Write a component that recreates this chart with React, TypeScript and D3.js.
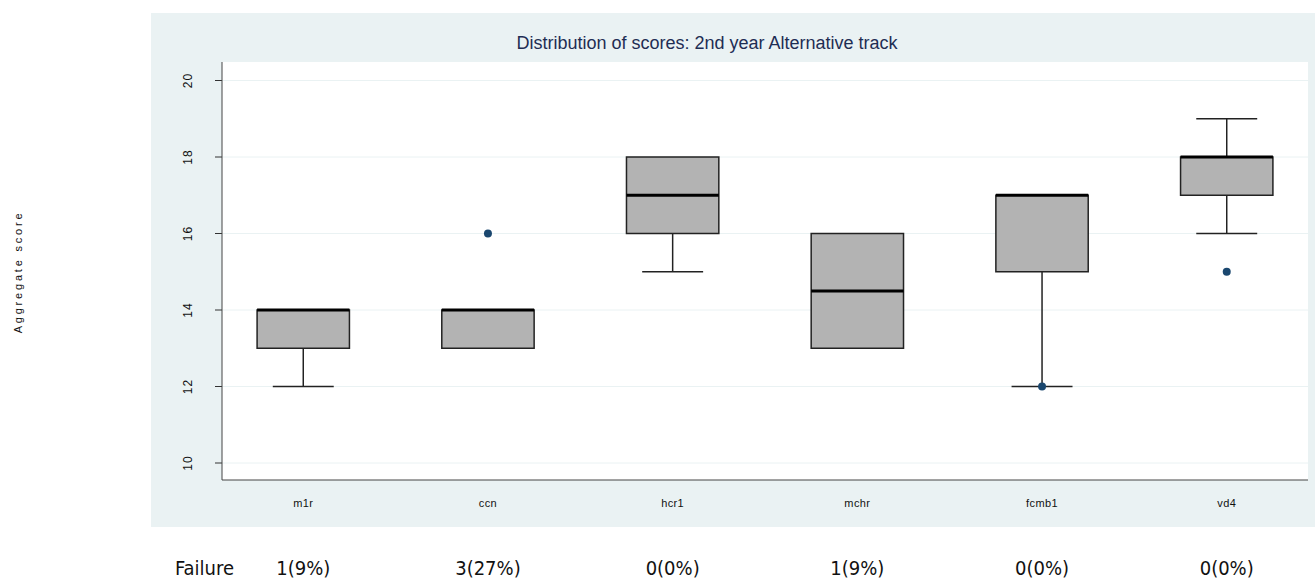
import React from "react";
import * as d3 from "d3";

const categories = ["m1r", "ccn", "hcr1", "mchr", "fcmb1", "vd4"];
const q1 = [13, 13, 16, 13, 15, 17];
const medians = [14, 14, 17, 14.5, 17, 18];
const q3 = [14, 14, 18, 16, 17, 18];
const whiskerLow = [12, 13, 15, 13, 12, 16];
const whiskerHigh = [14, 14, 18, 16, 17, 19];
const outliers = [[], [16], [], [], [12], [15]];
const failureLabels = ["1(9%)", "3(27%)", "0(0%)", "1(9%)", "0(0%)", "0(0%)"];
const yTicks = [10, 12, 14, 16, 18, 20];

const width = 1315;
const height = 587;
const panel = { left: 151, top: 13, right: 1315, bottom: 527 };
const plot = { left: 222, top: 62, right: 1308, bottom: 480 };

const App: React.FC = () => {
  const x = d3
    .scalePoint<string>()
    .domain(categories)
    .range([plot.left, plot.right])
    .padding(0.44);
  const step = x.step();

  const y = d3.scaleLinear().domain([10, 20]).range([463, 80.5]);

  const boxW = step * 0.5;
  const capW = step * 0.33;
  const sans = "'Liberation Sans', Arial, sans-serif";
  const narrow = "'DejaVu Sans Condensed', 'Liberation Sans Narrow', sans-serif";

  return (
    <svg
      width={width}
      height={height}
      style={{ position: "absolute", left: 0, top: 0, background: "#fff" }}
    >
      <rect
        x={panel.left}
        y={panel.top}
        width={panel.right - panel.left}
        height={panel.bottom - panel.top}
        fill="#eaf2f3"
      />
      <rect
        x={plot.left}
        y={plot.top}
        width={plot.right - plot.left}
        height={plot.bottom - plot.top}
        fill="#ffffff"
      />
      <text
        x={707}
        y={49}
        textAnchor="middle"
        fontFamily={sans}
        fontSize={18}
        fill="#1e2d53"
      >
        Distribution of scores: 2nd year Alternative track
      </text>

      {yTicks.map((t) => (
        <g key={t}>
          <line
            x1={plot.left}
            x2={plot.right}
            y1={y(t)}
            y2={y(t)}
            stroke="#eaf2f3"
            strokeWidth={1}
          />
          <line
            x1={plot.left - 7}
            x2={plot.left}
            y1={y(t)}
            y2={y(t)}
            stroke="#333"
            strokeWidth={1}
          />
          <text
            transform={`translate(192,${y(t)}) rotate(-90)`}
            textAnchor="middle"
            fontFamily={sans}
            fontSize={12}
            letterSpacing={1}
            fill="#111"
          >
            {t}
          </text>
        </g>
      ))}

      <line x1={plot.left} x2={plot.left} y1={plot.top} y2={plot.bottom} stroke="#444" strokeWidth={1} />
      <line x1={plot.left} x2={plot.right} y1={plot.bottom} y2={plot.bottom} stroke="#444" strokeWidth={1} />

      <text
        transform={`translate(22,272) rotate(-90)`}
        textAnchor="middle"
        fontFamily={sans}
        fontSize={11}
        letterSpacing={2.8}
        fill="#111"
      >
        Aggregate score
      </text>

      {categories.map((c, i) => {
        const cx = x(c) as number;
        return (
          <g key={c}>
            {whiskerLow[i] < q1[i] && (
              <g stroke="#222" strokeWidth={1.5}>
                <line x1={cx} x2={cx} y1={y(q1[i])} y2={y(whiskerLow[i])} />
                <line x1={cx - capW / 2} x2={cx + capW / 2} y1={y(whiskerLow[i])} y2={y(whiskerLow[i])} />
              </g>
            )}
            {whiskerHigh[i] > q3[i] && (
              <g stroke="#222" strokeWidth={1.5}>
                <line x1={cx} x2={cx} y1={y(q3[i])} y2={y(whiskerHigh[i])} />
                <line x1={cx - capW / 2} x2={cx + capW / 2} y1={y(whiskerHigh[i])} y2={y(whiskerHigh[i])} />
              </g>
            )}
            <rect
              x={cx - boxW / 2}
              y={y(q3[i])}
              width={boxW}
              height={y(q1[i]) - y(q3[i])}
              fill="#b3b3b3"
              stroke="#222"
              strokeWidth={1.5}
            />
            <line
              x1={cx - boxW / 2}
              x2={cx + boxW / 2}
              y1={y(medians[i])}
              y2={y(medians[i])}
              stroke="#000"
              strokeWidth={3}
            />
            {outliers[i].map((v, j) => (
              <circle key={j} cx={cx} cy={y(v)} r={4} fill="#1a476f" />
            ))}
            <text
              x={cx}
              y={507}
              textAnchor="middle"
              fontFamily={sans}
              fontSize={11}
              letterSpacing={0.4}
              fill="#111"
            >
              {c}
            </text>
            <text
              x={cx}
              y={575}
              textAnchor="middle"
              fontFamily={narrow}
              fontSize={20}
              fill="#111"
            >
              {failureLabels[i]}
            </text>
          </g>
        );
      })}

      <text x={175} y={575} fontFamily={narrow} fontSize={20} fill="#111">
        Failure
      </text>
    </svg>
  );
};

export default App;
